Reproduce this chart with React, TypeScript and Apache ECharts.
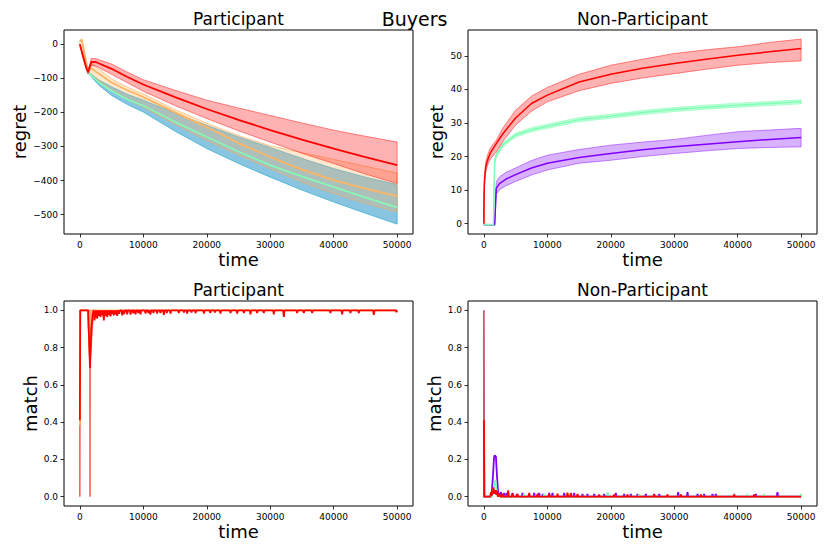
import React, { useEffect, useRef } from "react";
import * as echarts from "echarts";

const FONT = "DejaVu Sans";

// ---------- tick values ----------
const X_TICKS = [0, 10000, 20000, 30000, 40000, 50000];
const Y_TICKS_TL = [-500, -400, -300, -200, -100, 0];
const Y_TICKS_TR = [0, 10, 20, 30, 40, 50];
const Y_TICKS_MATCH = [0, 0.2, 0.4, 0.6, 0.8, 1.0];

// ---------- titles ----------
const SUPTITLE = "Buyers";
const TITLES = ["Participant", "Non-Participant", "Participant", "Non-Participant"];
const X_NAME = "time";
const Y_NAMES = ["regret", "regret", "match", "match"];

// ---------- colours (rainbow colormap) ----------
const RED = "#ff0000";
const ORANGE = "#ffb462";
const GREEN = "#80ffb4";
const PURPLE = "#8000ff";

// ---------- top-left: Participant regret ----------
const tRedTL = [0, 500, 1000, 1300, 1800, 2500, 5000, 7500, 10000, 15000, 20000, 25000, 30000, 35000, 40000, 45000, 50000];
const redMeanTL = [0, -35, -68, -82, -52, -52, -72, -96, -118, -155, -190, -222, -252, -280, -306, -331, -355];
const redUpTL = [2, -30, -62, -76, -42, -42, -58, -82, -104, -135, -164, -187, -209, -231, -252, -270, -287];
const redLoTL = [-2, -40, -74, -88, -62, -64, -88, -113, -138, -180, -218, -254, -287, -320, -350, -381, -409];

const tOrTL = [0, 300, 800, 1300, 1800, 2500, 5000, 7500, 10000, 15000, 20000, 25000, 30000, 35000, 40000, 45000, 50000];
const orMeanTL = [8, 14, -35, -80, -70, -80, -112, -135, -155, -200, -243, -290, -331, -368, -399, -424, -446];
const orUpTL = [10, 16, -28, -72, -55, -66, -102, -126, -146, -192, -232, -268, -298, -318, -338, -358, -378];
const orLoTL = [6, 12, -42, -86, -88, -98, -135, -162, -184, -235, -282, -325, -365, -405, -438, -467, -492];

const tLateTL = [1400, 2000, 3000, 5000, 7500, 10000, 15000, 20000, 25000, 30000, 35000, 40000, 45000, 50000];
const blueUpTL = [-82, -90, -105, -125, -147, -164, -202, -238, -272, -303, -335, -365, -390, -412];
const blueLoTL = [-86, -100, -120, -150, -177, -199, -255, -306, -350, -390, -428, -463, -496, -528];
const greenMeanTL = [-84, -95, -112, -137, -162, -180, -228, -272, -315, -355, -388, -419, -450, -479];

// ---------- top-right: Non-Participant regret ----------
const tRedTR = [0, 30, 100, 300, 600, 1000, 2000, 3000, 5000, 7500, 10000, 15000, 20000, 25000, 30000, 35000, 40000, 45000, 50000];
const redMeanTR = [0, 8, 13, 17, 19, 21, 24, 26.8, 31.5, 35.8, 38.3, 42.2, 44.5, 46.3, 47.7, 49, 50.2, 51.2, 52.2];
const redUpTR = [0, 9, 14.5, 18.5, 20.5, 22.5, 25, 28.5, 33.8, 38, 40.6, 44.5, 47.2, 49, 50.7, 51.8, 52.7, 54, 55];
const redLoTR = [0, 7, 11.5, 15.5, 17.5, 19.2, 21.4, 24.5, 29.4, 33.5, 36.3, 39.6, 41.8, 43.4, 44.7, 46, 47.2, 48, 48.5];

const tGreenTR = [0, 1500, 1700, 2000, 3000, 5000, 7500, 10000, 15000, 20000, 25000, 30000, 35000, 40000, 45000, 50000];
const greenMeanTR = [-0.3, -0.3, 18.5, 20.5, 23.5, 26.4, 28, 29, 31, 32, 33.1, 34, 34.7, 35.3, 35.8, 36.3];
const greenUpTR = [-0.2, -0.2, 19.1, 21.1, 24.1, 27, 28.6, 29.6, 31.6, 32.6, 33.7, 34.6, 35.3, 35.9, 36.4, 36.9];
const greenLoTR = [-0.4, -0.4, 17.9, 19.9, 22.9, 25.8, 27.4, 28.4, 30.4, 31.4, 32.5, 33.4, 34.1, 34.7, 35.2, 35.7];

const tPurpleTR = [0, 1700, 1950, 2500, 3500, 5000, 7500, 10000, 15000, 20000, 25000, 30000, 35000, 40000, 45000, 50000];
const purpleMeanTR = [-0.3, -0.3, 10.5, 12, 13.3, 14.6, 16.6, 18, 19.7, 20.9, 22, 22.9, 23.7, 24.4, 25.1, 25.7];
const purpleUpTR = [-0.2, -0.2, 12.5, 14, 15.3, 16.6, 18.8, 20.4, 22.1, 23.4, 24.3, 25.1, 26.3, 27.4, 27.9, 28.4];
const purpleLoTR = [-0.4, -0.4, 8.8, 10.2, 11.3, 12.6, 14.5, 16, 18, 18.9, 20, 20.9, 21.7, 22.4, 22.7, 22.9];

// ---------- bottom-left: Participant match ----------
const tRedStartBL = [0, 0, 60, 1300, 1600, 1800, 2000, 2150];
const redStartBL = [0.41, 0.41, 1, 1, 0.69, 0.9, 0.97, 1];
const tRedBandBL = [0, 60, 1200, 1560, 1600, 1640, 2100, 2300];
const redBandLoBL = [0, 1, 1, 0.72, 0, 0.72, 0.96, 1];
const redBandUpBL = [1, 1, 1, 1, 1, 1, 1, 1];
const tOrBL = [0, 60, 1300, 1550, 1800, 50000];
const orBL = [0.38, 1, 1, 0.75, 1, 1];
const redDipT_BL = [2310, 2550, 2730, 3000, 3260, 3500, 3780, 4050, 4300, 4550, 4830, 5100, 5350, 5600, 5880, 6200, 6670, 7000, 7460, 7980, 8400, 8770, 9200, 9560, 10350, 10800, 11130, 11600, 12180, 12700, 13230, 13700, 14290, 15600, 16400, 16910, 17600, 18230, 19540, 20540, 21300, 22160, 23740, 24790, 25840, 26890, 27940, 28990, 30560, 32140, 34240, 35290, 36610, 39490, 41330, 42640, 43960, 46320, 49900];
const redDipV_BL = [0.946, 0.96, 0.955, 0.97, 0.964, 0.975, 0.946, 0.97, 0.964, 0.975, 0.968, 0.98, 0.973, 0.978, 0.97, 0.982, 0.973, 0.98, 0.978, 0.977, 0.984, 0.978, 0.985, 0.978, 0.982, 0.986, 0.978, 0.986, 0.982, 0.986, 0.975, 0.986, 0.982, 0.986, 0.988, 0.982, 0.988, 0.986, 0.982, 0.986, 0.988, 0.982, 0.986, 0.982, 0.986, 0.978, 0.986, 0.986, 0.978, 0.964, 0.986, 0.986, 0.986, 0.986, 0.978, 0.986, 0.986, 0.975, 0.99];

// ---------- bottom-right: Non-Participant match ----------
const tPurpleStartBR = [0, 1200, 1450, 1600, 1700, 1900, 2050, 2250, 2500];
const purpleStartBR = [0, 0, 0.12, 0.21, 0.222, 0.215, 0.12, 0.02, 0];
const tGreenStartBR = [0, 1300, 1500, 1650, 1800, 1950, 2150, 2400];
const greenStartBR = [0, 0, 0.04, 0.07, 0.09, 0.05, 0.01, 0];
const tRedStartBR = [0, 80, 1000, 1100, 1200, 1400, 1520, 1650, 1800, 1950, 2050, 2200];
const redStartBR = [0.41, 0, 0, 0.025, 0.005, 0.02, 0.05, 0.015, 0.035, 0.01, 0.034, 0];
const tRedBandBR = [0, 80];
const redBandLoBR = [0, 0];
const redBandUpBR = [1, 0];
const purpleSpikeT = [2700, 3200, 3600, 4520, 5200, 6090, 7930, 8720, 9300, 10290, 10820, 12660, 14230, 15550, 16330, 17380, 18960, 19490, 20800, 22110, 23160, 24210, 25520, 26840, 27630, 30620, 32090, 33670, 34720, 36030, 36550, 39440, 42860, 46270];
const purpleSpikeV = [0.025, 0.02, 0.02, 0.02, 0.015, 0.02, 0.02, 0.02, 0.015, 0.02, 0.02, 0.02, 0.02, 0.015, 0.015, 0.015, 0.015, 0.015, 0.02, 0.015, 0.015, 0.015, 0.015, 0.015, 0.015, 0.025, 0.025, 0.015, 0.015, 0.015, 0.015, 0.015, 0.015, 0.025];
const greenSpikeT = [6350, 9510, 13180, 19490, 24470, 31040, 39440, 41540, 44170, 49950];
const greenSpikeV = [0.015, 0.015, 0.015, 0.025, 0.015, 0.015, 0.015, 0.015, 0.015, 0.015];
const redSpikeT = [2420, 2940, 3830, 4520, 5300, 7140, 8460, 10290, 11610, 13180, 13710, 14760, 18170, 20540, 22640, 26840, 28940, 31040, 34190, 39440, 42590];
const redSpikeV = [0.02, 0.016, 0.034, 0.016, 0.014, 0.02, 0.016, 0.014, 0.016, 0.022, 0.02, 0.014, 0.012, 0.012, 0.012, 0.012, 0.012, 0.012, 0.012, 0.012, 0.012];

// ---------- helpers ----------
function pairs(ts: number[], vs: number[]) {
  return ts.map((t, i) => [t, vs[i]]);
}

function spikes(base: number, ts: number[], vs: number[], half: number, endT: number, startT: number) {
  const out: number[][] = [[startT, base]];
  ts.forEach((t, i) => {
    out.push([t - half, base], [t, vs[i]], [t + half, base]);
  });
  out.push([endT, base]);
  return out;
}

function line(g: number, data: number[][], color: string, width: number) {
  return {
    type: "line",
    xAxisIndex: g,
    yAxisIndex: g,
    data,
    showSymbol: false,
    symbol: "none",
    silent: true,
    clip: true,
    lineStyle: { color, width },
  };
}

function band(g: number, ts: number[], lo: number[], hi: number[], fill: string, stroke: string, lw = 1) {
  return {
    type: "custom",
    xAxisIndex: g,
    yAxisIndex: g,
    silent: true,
    clip: true,
    data: [[ts[0], lo[0]]],
    renderItem: (_params: any, api: any) => {
      const pts: number[][] = [];
      for (let i = 0; i < ts.length; i++) pts.push(api.coord([ts[i], hi[i]]));
      for (let i = ts.length - 1; i >= 0; i--) pts.push(api.coord([ts[i], lo[i]]));
      return {
        type: "polygon",
        shape: { points: pts },
        style: { fill, stroke, lineWidth: lw },
      };
    },
  };
}

const GRIDS = [
  { left: 64, top: 30, width: 349, height: 204 },
  { left: 468, top: 30, width: 349, height: 204 },
  { left: 64, top: 301, width: 349, height: 205 },
  { left: 468, top: 301, width: 349, height: 205 },
];

const Y_RANGES = [
  [-557, 42],
  [-3.07, 57.7],
  [-0.05, 1.05],
  [-0.05, 1.05],
];
const Y_TICK_SETS = [Y_TICKS_TL, Y_TICKS_TR, Y_TICKS_MATCH, Y_TICKS_MATCH];
const Y_NAME_GAPS = [36, 23, 25, 25];

const minusFmt = (v: number) => (v < 0 ? "\u2212" + Math.abs(v) : String(v));
const Y_FORMATTERS = [minusFmt, minusFmt, (v: number) => v.toFixed(1), (v: number) => v.toFixed(1)];

export default function App() {
  const ref = useRef<HTMLDivElement>(null);

  useEffect(() => {
    if (!ref.current) return;
    const chart = echarts.init(ref.current, undefined, { renderer: "svg" });

    const tickStyle = { color: "#000", width: 0.8 };
    const labelBase = { fontSize: 9, color: "#000", fontFamily: FONT };
    const nameStyle = { fontSize: 18, color: "#000", fontFamily: FONT };

    const xAxis = GRIDS.map((_, g) => ({
      type: "value",
      gridIndex: g,
      position: "bottom",
      min: -2500,
      max: 52500,
      axisLine: { show: false, onZero: false },
      splitLine: { show: false },
      axisTick: { show: true, inside: false, length: 3.5, lineStyle: tickStyle, customValues: X_TICKS },
      axisLabel: { ...labelBase, margin: 6, customValues: X_TICKS, formatter: (v: number) => String(v) },
      name: X_NAME,
      nameLocation: "middle",
      nameGap: 16,
      nameTextStyle: nameStyle,
    }));

    const yAxis = GRIDS.map((_, g) => ({
      type: "value",
      gridIndex: g,
      position: "left",
      min: Y_RANGES[g][0],
      max: Y_RANGES[g][1],
      axisLine: { show: false, onZero: false },
      splitLine: { show: false },
      axisTick: { show: true, inside: false, length: 3.5, lineStyle: tickStyle, customValues: Y_TICK_SETS[g] },
      axisLabel: { ...labelBase, margin: 6, customValues: Y_TICK_SETS[g], formatter: Y_FORMATTERS[g] },
      name: Y_NAMES[g],
      nameLocation: "middle",
      nameGap: Y_NAME_GAPS[g],
      nameTextStyle: nameStyle,
    }));

    const series: any[] = [
      // top-left
      band(0, tLateTL, blueLoTL, blueUpTL, "rgba(40,150,200,0.55)", "rgba(40,170,210,0.7)"),
      line(0, pairs(tLateTL, greenMeanTL), GREEN, 1.5),
      band(0, tOrTL, orLoTL, orUpTL, "rgba(255,180,98,0.3)", "rgba(255,170,80,0.6)"),
      line(0, pairs(tOrTL, orMeanTL), ORANGE, 1.8),
      band(0, tRedTL, redLoTL, redUpTL, "rgba(255,0,0,0.3)", "rgba(255,0,0,0.45)"),
      line(0, pairs(tRedTL, redMeanTL), RED, 1.8),
      // top-right
      band(1, tPurpleTR, purpleLoTR, purpleUpTR, "rgba(128,0,255,0.3)", "rgba(128,0,255,0.45)"),
      line(1, pairs(tPurpleTR, purpleMeanTR), PURPLE, 1.5),
      band(1, tGreenTR, greenLoTR, greenUpTR, "rgba(128,255,180,0.45)", "rgba(128,255,180,0.6)"),
      line(1, pairs(tGreenTR, greenMeanTR), GREEN, 1.5),
      band(1, tRedTR, redLoTR, redUpTR, "rgba(255,0,0,0.3)", "rgba(255,0,0,0.45)"),
      line(1, pairs(tRedTR, redMeanTR), RED, 1.5),
      // bottom-left
      line(2, pairs(tOrBL, orBL), ORANGE, 1.8),
      band(2, tRedBandBL, redBandLoBL, redBandUpBL, "rgba(255,0,0,0.3)", "rgba(255,0,0,0.6)"),
      line(2, pairs(tRedStartBL, redStartBL), RED, 1.8),
      line(2, spikes(1, redDipT_BL, redDipV_BL, 110, 50000, 2150), RED, 1.8),
      // bottom-right
      line(3, pairs(tPurpleStartBR, purpleStartBR), PURPLE, 1.8),
      line(3, spikes(0, purpleSpikeT, purpleSpikeV, 120, 50000, 2500), PURPLE, 1.8),
      line(3, pairs(tGreenStartBR, greenStartBR), GREEN, 1.8),
      line(3, spikes(0, greenSpikeT, greenSpikeV, 120, 50000, 2400), GREEN, 1.8),
      band(3, tRedBandBR, redBandLoBR, redBandUpBR, "rgba(255,0,0,0.3)", "#c85a72", 1.8),
      line(3, pairs(tRedStartBR, redStartBR), RED, 1.8),
      line(3, spikes(0, redSpikeT, redSpikeV, 120, 50000, 2200), RED, 1.8),
    ];

    const graphic: any[] = [
      {
        type: "text",
        x: 414.5,
        y: 18.5,
        silent: true,
        style: { text: SUPTITLE, font: `19px "${FONT}"`, fill: "#000", align: "center", verticalAlign: "middle" },
      },
      ...GRIDS.map((gr, g) => ({
        type: "text",
        x: gr.left + gr.width / 2,
        y: g < 2 ? 19 : 290,
        silent: true,
        style: { text: TITLES[g], font: `17px "${FONT}"`, fill: "#000", align: "center", verticalAlign: "middle" },
      })),
    ];

    chart.setOption({
      animation: false,
      backgroundColor: "#fff",
      textStyle: { fontFamily: FONT },
      grid: GRIDS.map((gr) => ({ ...gr, show: true, borderColor: "#000", borderWidth: 1, backgroundColor: "transparent", containLabel: false })),
      xAxis,
      yAxis,
      series,
      graphic,
    });

    return () => chart.dispose();
  }, []);

  return <div ref={ref} style={{ position: "absolute", left: 0, top: 0, width: 830, height: 554 }} />;
}
